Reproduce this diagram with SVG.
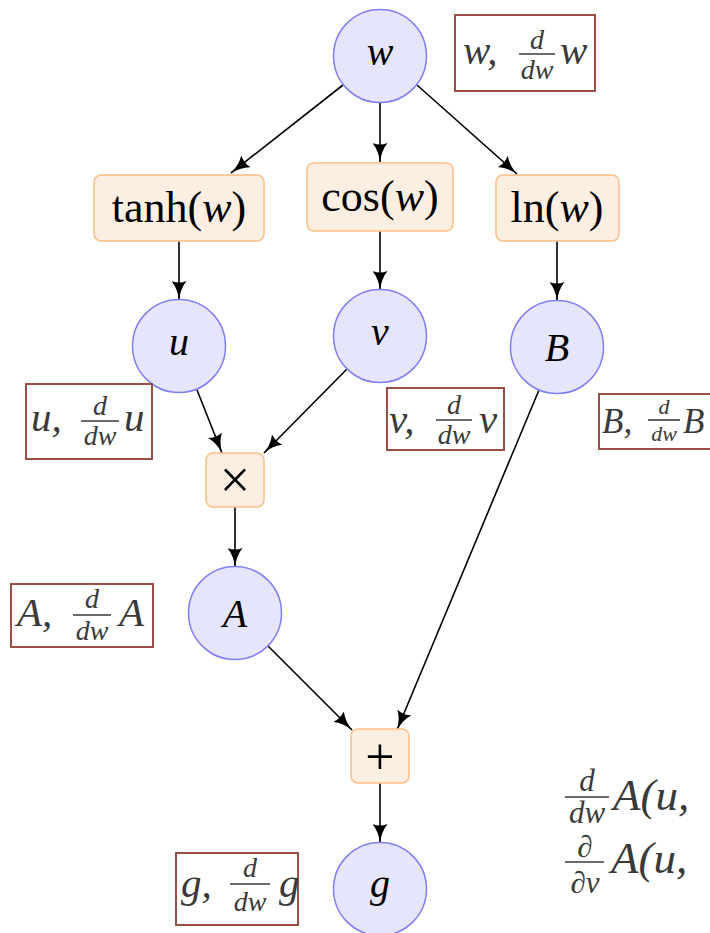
<svg xmlns="http://www.w3.org/2000/svg" width="710" height="933" viewBox="0 0 710 933">
<style>
text{font-family:"Liberation Serif","DejaVu Serif",serif}
.var circle{fill:#e5e5fb;stroke:#7f7ff5;stroke-width:1.5}
.op rect{fill:#fdeee2;stroke:#fbbf84;stroke-width:1.5}
.vt{font-style:italic;font-size:40px;fill:#000;text-anchor:middle}
.ot{font-size:44px;fill:#000;text-anchor:middle}
.lab rect{fill:#fff;stroke:#9b5046;stroke-width:2}
.lt{font-style:italic;font-size:41px;fill:#3a3a3a}
.ft{font-style:italic;font-size:28px;fill:#3a3a3a;text-anchor:middle}
.fl{stroke:#3a3a3a;stroke-width:1.6}
.edge{stroke:#000;stroke-width:1.6;fill:none;marker-end:url(#ah)}
</style>
<defs>
<marker id="ah" viewBox="0 0 20 15" refX="19" refY="7.5" markerWidth="20" markerHeight="15" markerUnits="userSpaceOnUse" orient="auto">
<path d="M0,0 Q8,6.5 20,7.5 Q8,8.5 0,15 Q3,7.5 0,0 z" fill="#000"/>
</marker>
</defs>
<g id="connectors">
<line class="edge" x1="343" y1="85" x2="231" y2="173"/>
<line class="edge" x1="380" y1="103" x2="380" y2="162"/>
<line class="edge" x1="417" y1="85" x2="517" y2="174"/>
<line class="edge" x1="179" y1="241" x2="179" y2="300"/>
<line class="edge" x1="380" y1="231" x2="380" y2="290"/>
<line class="edge" x1="557" y1="241" x2="557" y2="301"/>
<line class="edge" x1="197" y1="390" x2="222" y2="453"/>
<line class="edge" x1="347" y1="369" x2="264" y2="453"/>
<line class="edge" x1="235" y1="507" x2="235" y2="567"/>
<line class="edge" x1="268" y1="646" x2="352" y2="730"/>
<line class="edge" x1="539" y1="390" x2="397" y2="730"/>
<line class="edge" x1="380" y1="783" x2="380" y2="843"/>
</g>
<g id="node-w" class="var"><circle cx="380" cy="56" r="46.5"/><text class="vt" x="380" y="65">w</text></g>
<g id="node-tanh" class="op"><rect x="94" y="175" width="170" height="66" rx="7"/><text class="ot" x="179" y="222">tanh(<tspan font-style="italic">w</tspan>)</text></g>
<g id="node-cos" class="op"><rect x="307" y="163" width="146" height="68" rx="7"/><text class="ot" x="380" y="211">cos(<tspan font-style="italic">w</tspan>)</text></g>
<g id="node-ln" class="op"><rect x="496" y="175" width="123" height="66" rx="7"/><text class="ot" x="557" y="222">ln(<tspan font-style="italic">w</tspan>)</text></g>
<g id="node-u" class="var"><circle cx="179" cy="346" r="46.5"/><text class="vt" x="179" y="355">u</text></g>
<g id="node-v" class="var"><circle cx="380" cy="336" r="46.5"/><text class="vt" x="380" y="345">v</text></g>
<g id="node-B" class="var"><circle cx="557" cy="347" r="46.5"/><text class="vt" x="557" y="361">B</text></g>
<g id="node-mul" class="op"><rect x="206" y="453" width="58" height="54" rx="7"/><text class="ot" x="235" y="498" style="font-size:54px">×</text></g>
<g id="node-A" class="var"><circle cx="235" cy="613" r="46.5"/><text class="vt" x="235" y="627">A</text></g>
<g id="node-add" class="op"><rect x="351" y="729" width="58" height="54" rx="7"/><text class="ot" x="380" y="774" style="font-size:52px">+</text></g>
<g id="node-g" class="var"><circle cx="380" cy="889" r="46.5"/><text class="vt" x="380" y="897">g</text></g>

<g id="label-w" class="lab"><rect x="455" y="15" width="140" height="76"/>
<text class="lt" x="463" y="64">w,</text>
<text class="ft" x="537" y="49">d</text><line class="fl" x1="519" y1="54" x2="555" y2="54"/><text class="ft" x="537" y="79">dw</text>
<text class="lt" x="560" y="64">w</text></g>

<g id="label-u" class="lab"><rect x="26" y="384" width="126" height="75"/>
<text class="lt" x="31" y="431">u,</text>
<text class="ft" x="100" y="415">d</text><line class="fl" x1="81" y1="421" x2="119" y2="421"/><text class="ft" x="100" y="445">dw</text>
<text class="lt" x="124" y="431">u</text></g>

<g id="label-v" class="lab"><rect x="387" y="388" width="117" height="62"/>
<text class="lt" x="389" y="433">v,</text>
<text class="ft" x="454" y="414">d</text><line class="fl" x1="436" y1="420" x2="472" y2="420"/><text class="ft" x="454" y="444">dw</text>
<text class="lt" x="479" y="433">v</text></g>

<g id="label-B" class="lab"><rect x="599" y="394" width="120" height="55"/>
<text class="lt" x="602" y="433" style="font-size:35px">B,</text>
<text class="ft" x="664" y="414" style="font-size:22px">d</text><line class="fl" x1="648" y1="420" x2="680" y2="420"/><text class="ft" x="664" y="441" style="font-size:22px">dw</text>
<text class="lt" x="683" y="433" style="font-size:35px">B</text></g>

<g id="label-A" class="lab"><rect x="11" y="584" width="142" height="63"/>
<text class="lt" x="17" y="626">A,</text>
<text class="ft" x="92" y="608">d</text><line class="fl" x1="73" y1="615" x2="111" y2="615"/><text class="ft" x="92" y="640">dw</text>
<text class="lt" x="119" y="626">A</text></g>

<g id="label-g" class="lab"><rect x="176" y="853" width="122" height="72"/>
<text class="lt" x="181" y="897">g,</text>
<text class="ft" x="250" y="877">d</text><line class="fl" x1="230" y1="884" x2="270" y2="884"/><text class="ft" x="250" y="911">dw</text>
<text class="lt" x="279" y="897">g</text></g>

<g id="formula">
<text class="ft" x="587" y="791" style="font-size:31px">d</text><line class="fl" x1="565" y1="797" x2="609" y2="797"/><text class="ft" x="587" y="823" style="font-size:31px">dw</text>
<text class="lt" x="613" y="810" style="font-size:45px">A(u,</text>
<text class="ft" x="585" y="857" style="font-size:31px">∂</text><line class="fl" x1="565" y1="862" x2="604" y2="862"/><text class="ft" x="585" y="893" style="font-size:31px">∂v</text>
<text class="lt" x="611" y="873" style="font-size:45px">A(u,</text>
</g>
</svg>
